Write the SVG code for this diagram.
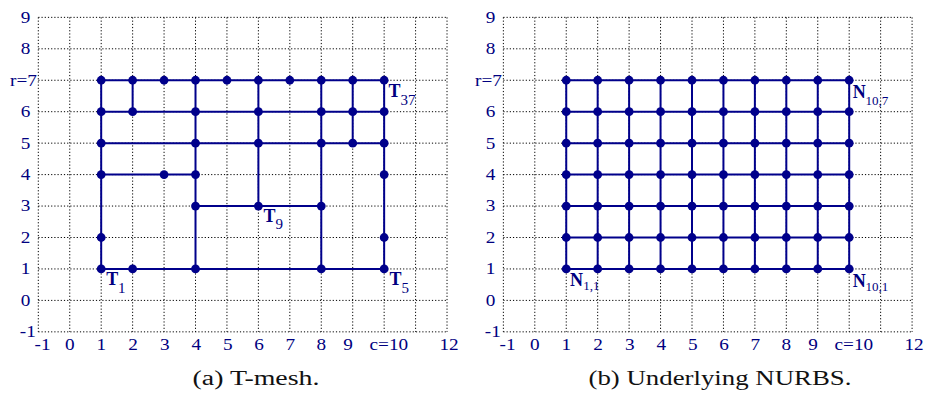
<svg xmlns="http://www.w3.org/2000/svg" xmlns:xlink="http://www.w3.org/1999/xlink" width="925" height="394" viewBox="0 0 925 394">
<defs>
<style>
.grid{fill:none;stroke:#000;stroke-width:1;stroke-dasharray:1.2 2}
.mesh{fill:none;stroke:#00008B;stroke-width:2}
.tick{font-family:"Liberation Serif","Times New Roman",serif;font-size:16px;fill:#000080;text-anchor:middle}
.lb{font-family:"Liberation Serif","Times New Roman",serif;font-size:18px;font-weight:bold;fill:#000080}
.sb{font-family:"Liberation Serif","Times New Roman",serif;font-size:15px;fill:#000080}
.sn{font-family:"Liberation Serif","Times New Roman",serif;font-size:13px;fill:#000080}
.cap{font-family:"Liberation Serif","Times New Roman",serif;font-size:20px;fill:#111;text-anchor:middle}
</style>
<circle id="d" cx="0" cy="0" r="4.4" fill="#00008B"/>
</defs>
<rect width="925" height="394" fill="#fff"/>

<!-- Panel (a) grid -->
<g id="a-grid">
<path class="grid" d="M38.31 17.35V331.85M69.75 17.35V331.85M101.19 17.35V331.85M132.63 17.35V331.85M164.07 17.35V331.85M195.51 17.35V331.85M226.95 17.35V331.85M258.39 17.35V331.85M289.83 17.35V331.85M321.27 17.35V331.85M352.71 17.35V331.85M384.15 17.35V331.85M415.59 17.35V331.85M447.03 17.35V331.85M38.31 17.35H447.03M38.31 48.8H447.03M38.31 80.25H447.03M38.31 111.7H447.03M38.31 143.15H447.03M38.31 174.6H447.03M38.31 206.05H447.03M38.31 237.5H447.03M38.31 268.95H447.03M38.31 300.4H447.03M38.31 331.85H447.03"/>
</g>
<g id="a-ticks" class="tick">
<text transform="translate(25.5,22.75) scale(1.2,1)">9</text>
<text transform="translate(25.5,54.2) scale(1.2,1)">8</text>
<text transform="translate(23.5,85.65) scale(1.2,1)">r=7</text>
<text transform="translate(25.5,117.1) scale(1.2,1)">6</text>
<text transform="translate(25.5,148.55) scale(1.2,1)">5</text>
<text transform="translate(25.5,180) scale(1.2,1)">4</text>
<text transform="translate(25.5,211.45) scale(1.2,1)">3</text>
<text transform="translate(25.5,242.9) scale(1.2,1)">2</text>
<text transform="translate(25.5,274.35) scale(1.2,1)">1</text>
<text transform="translate(25.5,305.8) scale(1.2,1)">0</text>
<text transform="translate(27.8,337.25) scale(1.2,1)">-1</text>
<text transform="translate(42.5,350) scale(1.2,1)">-1</text>
<text transform="translate(69.7,350) scale(1.2,1)">0</text>
<text transform="translate(101.2,350) scale(1.2,1)">1</text>
<text transform="translate(133,350) scale(1.2,1)">2</text>
<text transform="translate(164.7,350) scale(1.2,1)">3</text>
<text transform="translate(196.3,350) scale(1.2,1)">4</text>
<text transform="translate(227.7,350) scale(1.2,1)">5</text>
<text transform="translate(259,350) scale(1.2,1)">6</text>
<text transform="translate(290.3,350) scale(1.2,1)">7</text>
<text transform="translate(321.3,350) scale(1.2,1)">8</text>
<text transform="translate(348,350) scale(1.2,1)">9</text>
<text transform="translate(388.8,350) scale(1.2,1)">c=10</text>
<text transform="translate(449,350) scale(1.2,1)">12</text>
</g>

<!-- Panel (a) T-mesh connectors -->
<g id="a-edges" class="mesh">
<path d="M101.19 80.25H384.15M101.19 111.7H384.15M101.19 143.15H384.15M101.19 174.6H195.51M195.51 206.05H321.27M101.19 268.95H384.15M101.19 80.25V268.95M132.63 80.25V111.7M195.51 80.25V268.95M258.39 80.25V206.05M321.27 80.25V268.95M352.71 80.25V143.15M384.15 80.25V268.95"/>
</g>
<g id="a-nodes">
<use href="#d" x="101.19" y="80.25"/><use href="#d" x="132.63" y="80.25"/><use href="#d" x="164.07" y="80.25"/><use href="#d" x="195.51" y="80.25"/><use href="#d" x="226.95" y="80.25"/><use href="#d" x="258.39" y="80.25"/><use href="#d" x="289.83" y="80.25"/><use href="#d" x="321.27" y="80.25"/><use href="#d" x="352.71" y="80.25"/><use href="#d" x="384.15" y="80.25"/>
<use href="#d" x="101.19" y="111.7"/><use href="#d" x="132.63" y="111.7"/><use href="#d" x="195.51" y="111.7"/><use href="#d" x="258.39" y="111.7"/><use href="#d" x="321.27" y="111.7"/><use href="#d" x="352.71" y="111.7"/><use href="#d" x="384.15" y="111.7"/>
<use href="#d" x="101.19" y="143.15"/><use href="#d" x="195.51" y="143.15"/><use href="#d" x="258.39" y="143.15"/><use href="#d" x="321.27" y="143.15"/><use href="#d" x="352.71" y="143.15"/><use href="#d" x="384.15" y="143.15"/>
<use href="#d" x="101.19" y="174.6"/><use href="#d" x="164.07" y="174.6"/><use href="#d" x="195.51" y="174.6"/><use href="#d" x="384.15" y="174.6"/>
<use href="#d" x="195.51" y="206.05"/><use href="#d" x="258.39" y="206.05"/><use href="#d" x="321.27" y="206.05"/>
<use href="#d" x="101.19" y="237.5"/><use href="#d" x="384.15" y="237.5"/>
<use href="#d" x="101.19" y="268.95"/><use href="#d" x="132.63" y="268.95"/><use href="#d" x="195.51" y="268.95"/><use href="#d" x="321.27" y="268.95"/><use href="#d" x="384.15" y="268.95"/>
</g>
<g id="a-labels">
<g id="T1"><text class="lb" x="106.2" y="285">T</text><text class="sb" x="118" y="292.5">1</text></g>
<g id="T5"><text class="lb" x="389.5" y="285">T</text><text class="sb" x="401.5" y="292.5">5</text></g>
<g id="T9"><text class="lb" x="263.4" y="221.7">T</text><text class="sb" x="275.4" y="229">9</text></g>
<g id="T37"><text class="lb" x="388.5" y="96.5">T</text><text class="sb" x="400.5" y="104.8">37</text></g>
</g>
<text class="cap" x="256" y="385" textLength="127" lengthAdjust="spacingAndGlyphs">(a) T-mesh.</text>

<!-- Panel (b) grid -->
<g id="b-grid">
<path class="grid" d="M503.36 17.35V331.85M534.8 17.35V331.85M566.24 17.35V331.85M597.68 17.35V331.85M629.12 17.35V331.85M660.56 17.35V331.85M692 17.35V331.85M723.44 17.35V331.85M754.88 17.35V331.85M786.32 17.35V331.85M817.76 17.35V331.85M849.2 17.35V331.85M880.64 17.35V331.85M912.08 17.35V331.85M503.36 17.35H912.08M503.36 48.8H912.08M503.36 80.25H912.08M503.36 111.7H912.08M503.36 143.15H912.08M503.36 174.6H912.08M503.36 206.05H912.08M503.36 237.5H912.08M503.36 268.95H912.08M503.36 300.4H912.08M503.36 331.85H912.08"/>
</g>
<g id="b-ticks" class="tick">
<text transform="translate(490.5,22.75) scale(1.2,1)">9</text>
<text transform="translate(490.5,54.2) scale(1.2,1)">8</text>
<text transform="translate(488.5,85.65) scale(1.2,1)">r=7</text>
<text transform="translate(490.5,117.1) scale(1.2,1)">6</text>
<text transform="translate(490.5,148.55) scale(1.2,1)">5</text>
<text transform="translate(490.5,180) scale(1.2,1)">4</text>
<text transform="translate(490.5,211.45) scale(1.2,1)">3</text>
<text transform="translate(490.5,242.9) scale(1.2,1)">2</text>
<text transform="translate(490.5,274.35) scale(1.2,1)">1</text>
<text transform="translate(490.5,305.8) scale(1.2,1)">0</text>
<text transform="translate(492.8,337.25) scale(1.2,1)">-1</text>
<text transform="translate(507.5,350) scale(1.2,1)">-1</text>
<text transform="translate(534.7,350) scale(1.2,1)">0</text>
<text transform="translate(566.2,350) scale(1.2,1)">1</text>
<text transform="translate(598,350) scale(1.2,1)">2</text>
<text transform="translate(629.7,350) scale(1.2,1)">3</text>
<text transform="translate(661.3,350) scale(1.2,1)">4</text>
<text transform="translate(692.7,350) scale(1.2,1)">5</text>
<text transform="translate(724,350) scale(1.2,1)">6</text>
<text transform="translate(755.3,350) scale(1.2,1)">7</text>
<text transform="translate(786.3,350) scale(1.2,1)">8</text>
<text transform="translate(813,350) scale(1.2,1)">9</text>
<text transform="translate(853.8,350) scale(1.2,1)">c=10</text>
<text transform="translate(914,350) scale(1.2,1)">12</text>
</g>

<!-- Panel (b) NURBS connectors -->
<g id="b-edges" class="mesh">
<path d="M566.24 80.25H849.2M566.24 111.7H849.2M566.24 143.15H849.2M566.24 174.6H849.2M566.24 206.05H849.2M566.24 237.5H849.2M566.24 268.95H849.2M566.24 80.25V268.95M597.68 80.25V268.95M629.12 80.25V268.95M660.56 80.25V268.95M692 80.25V268.95M723.44 80.25V268.95M754.88 80.25V268.95M786.32 80.25V268.95M817.76 80.25V268.95M849.2 80.25V268.95"/>
</g>
<g id="b-nodes">
<g id="b-row7"><use href="#d" x="566.24" y="80.25"/><use href="#d" x="597.68" y="80.25"/><use href="#d" x="629.12" y="80.25"/><use href="#d" x="660.56" y="80.25"/><use href="#d" x="692" y="80.25"/><use href="#d" x="723.44" y="80.25"/><use href="#d" x="754.88" y="80.25"/><use href="#d" x="786.32" y="80.25"/><use href="#d" x="817.76" y="80.25"/><use href="#d" x="849.2" y="80.25"/></g>
<g id="b-row6"><use href="#d" x="566.24" y="111.7"/><use href="#d" x="597.68" y="111.7"/><use href="#d" x="629.12" y="111.7"/><use href="#d" x="660.56" y="111.7"/><use href="#d" x="692" y="111.7"/><use href="#d" x="723.44" y="111.7"/><use href="#d" x="754.88" y="111.7"/><use href="#d" x="786.32" y="111.7"/><use href="#d" x="817.76" y="111.7"/><use href="#d" x="849.2" y="111.7"/></g>
<g id="b-row5"><use href="#d" x="566.24" y="143.15"/><use href="#d" x="597.68" y="143.15"/><use href="#d" x="629.12" y="143.15"/><use href="#d" x="660.56" y="143.15"/><use href="#d" x="692" y="143.15"/><use href="#d" x="723.44" y="143.15"/><use href="#d" x="754.88" y="143.15"/><use href="#d" x="786.32" y="143.15"/><use href="#d" x="817.76" y="143.15"/><use href="#d" x="849.2" y="143.15"/></g>
<g id="b-row4"><use href="#d" x="566.24" y="174.6"/><use href="#d" x="597.68" y="174.6"/><use href="#d" x="629.12" y="174.6"/><use href="#d" x="660.56" y="174.6"/><use href="#d" x="692" y="174.6"/><use href="#d" x="723.44" y="174.6"/><use href="#d" x="754.88" y="174.6"/><use href="#d" x="786.32" y="174.6"/><use href="#d" x="817.76" y="174.6"/><use href="#d" x="849.2" y="174.6"/></g>
<g id="b-row3"><use href="#d" x="566.24" y="206.05"/><use href="#d" x="597.68" y="206.05"/><use href="#d" x="629.12" y="206.05"/><use href="#d" x="660.56" y="206.05"/><use href="#d" x="692" y="206.05"/><use href="#d" x="723.44" y="206.05"/><use href="#d" x="754.88" y="206.05"/><use href="#d" x="786.32" y="206.05"/><use href="#d" x="817.76" y="206.05"/><use href="#d" x="849.2" y="206.05"/></g>
<g id="b-row2"><use href="#d" x="566.24" y="237.5"/><use href="#d" x="597.68" y="237.5"/><use href="#d" x="629.12" y="237.5"/><use href="#d" x="660.56" y="237.5"/><use href="#d" x="692" y="237.5"/><use href="#d" x="723.44" y="237.5"/><use href="#d" x="754.88" y="237.5"/><use href="#d" x="786.32" y="237.5"/><use href="#d" x="817.76" y="237.5"/><use href="#d" x="849.2" y="237.5"/></g>
<g id="b-row1"><use href="#d" x="566.24" y="268.95"/><use href="#d" x="597.68" y="268.95"/><use href="#d" x="629.12" y="268.95"/><use href="#d" x="660.56" y="268.95"/><use href="#d" x="692" y="268.95"/><use href="#d" x="723.44" y="268.95"/><use href="#d" x="754.88" y="268.95"/><use href="#d" x="786.32" y="268.95"/><use href="#d" x="817.76" y="268.95"/><use href="#d" x="849.2" y="268.95"/></g>
</g>
<g id="b-labels">
<g id="N11"><text class="lb" x="570" y="285.5">N</text><text class="sn" x="583.3" y="289.5">1,1</text></g>
<g id="N101"><text class="lb" x="852.7" y="286.5">N</text><text class="sn" x="865.5" y="291">10,1</text></g>
<g id="N107"><text class="lb" x="852.7" y="97.7">N</text><text class="sn" x="865.5" y="104.5">10,7</text></g>
</g>
<text class="cap" x="720" y="385" textLength="263" lengthAdjust="spacingAndGlyphs">(b) Underlying NURBS.</text>
</svg>
